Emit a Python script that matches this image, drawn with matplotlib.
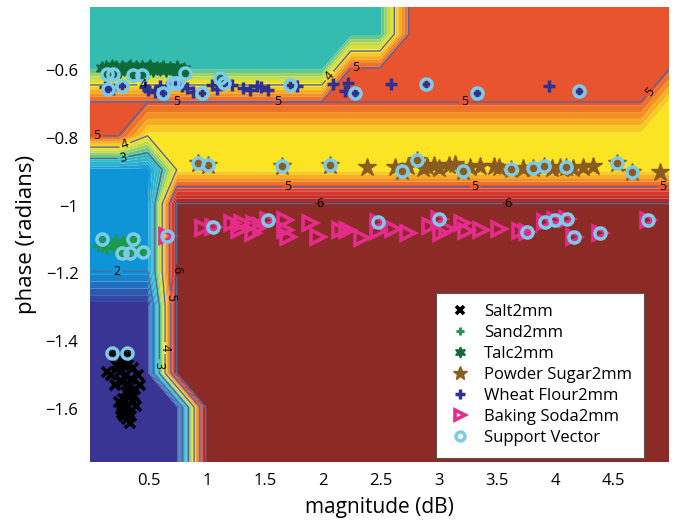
import numpy as np
import matplotlib
matplotlib.use("Agg")
import matplotlib.pyplot as plt
from matplotlib.colors import LinearSegmentedColormap, Normalize
from matplotlib.ticker import FuncFormatter

plt.rcParams['font.family'] = ['Open Sans', 'DejaVu Sans']

# ---------------- data ----------------
# predicted-class grid (rows top -> bottom), class ids 1..6
grid_x = np.arange(21) * 0.25 - 0.01
grid_y = -0.394 - 0.1 * np.arange(15)
label_rows = [
    "333333333335555555555",
    "333333333335555555555",
    "333333333555555555555",
    "555555555555555555554",
    "554444444444444444444",
    "222444444444444444444",
    "222666666666666666666",
    "222666666666666666666",
    "222666666666666666666",
    "111666666666666666666",
    "111666666666666666666",
    "111666666666666666666",
    "111166666666666666666",
    "111166666666666666666",
    "111166666666666666666",
]

salt_x = [0.22, 0.28, 0.32, 0.36, 0.25, 0.30, 0.17, 0.35, 0.41, 0.27, 0.32, 0.38, 0.30,
          0.34, 0.28, 0.36, 0.31, 0.26, 0.33, 0.29, 0.31, 0.34, 0.24, 0.37, 0.18, 0.31,
          0.14, 0.42, 0.21, 0.39, 0.27, 0.35, 0.29]
salt_y = [-1.47, -1.47, -1.47, -1.48, -1.49, -1.50, -1.50, -1.51, -1.50, -1.52, -1.53, -1.54, -1.55,
          -1.56, -1.57, -1.58, -1.59, -1.60, -1.61, -1.62, -1.63, -1.64, -1.58, -1.56, -1.435, -1.435,
          -1.49, -1.53, -1.53, -1.59, -1.61, -1.62, -1.46]

sand_x = [0.06, 0.10, 0.14, 0.10, 0.18, 0.22, 0.25, 0.28, 0.31, 0.34, 0.36, 0.27, 0.34, 0.45,
          0.20, 0.24, 0.30, 0.38, 0.42]
sand_y = [-1.12, -1.12, -1.125, -1.098, -1.11, -1.10, -1.115, -1.105, -1.12, -1.11, -1.098, -1.14,
          -1.14, -1.137, -1.125, -1.13, -1.13, -1.12, -1.13]

talc_x = [0.10, 0.13, 0.15, 0.18, 0.20, 0.22, 0.25, 0.27, 0.29, 0.32, 0.34, 0.36, 0.39, 0.41,
          0.44, 0.46, 0.49, 0.51, 0.54, 0.57, 0.60, 0.62, 0.65, 0.68, 0.71, 0.74, 0.77, 0.80,
          0.14, 0.19, 0.36, 0.44, 0.81, 1.11]
talc_y = [-0.595, -0.590, -0.600, -0.588, -0.596, -0.592, -0.602, -0.590, -0.598, -0.594, -0.588,
          -0.600, -0.592, -0.597, -0.590, -0.603, -0.594, -0.588, -0.600, -0.593, -0.598, -0.590,
          -0.601, -0.595, -0.600, -0.592, -0.605, -0.598, -0.612, -0.612, -0.615, -0.615, -0.609,
          -0.624]

sugar_x = [0.92, 1.01, 1.65, 2.06, 2.38, 2.62, 2.68, 2.73, 2.81, 2.86, 2.90, 2.96, 3.00, 3.09,
           3.14, 3.21, 3.27, 3.35, 3.47, 3.52, 3.62, 3.72, 3.81, 3.90, 3.97, 4.04, 4.09, 4.15,
           4.24, 4.33, 4.53, 4.66, 4.90]
sugar_y = [-0.874, -0.880, -0.883, -0.880, -0.886, -0.885, -0.898, -0.884, -0.865, -0.888, -0.883,
           -0.880, -0.888, -0.880, -0.876, -0.898, -0.885, -0.883, -0.883, -0.886, -0.892, -0.890,
           -0.889, -0.883, -0.888, -0.885, -0.886, -0.889, -0.886, -0.883, -0.874, -0.900, -0.900]

wheat_x = [0.12, 0.15, 0.19, 0.27, 0.47, 0.49, 0.55, 0.60, 0.62, 0.66, 0.71, 0.74, 0.79, 0.83,
           0.88, 0.96, 1.04, 1.09, 1.15, 1.22, 1.31, 1.37, 1.43, 1.47, 1.53, 1.72, 1.78, 2.09,
           2.19, 2.22, 2.28, 2.59, 2.89, 3.33, 3.95, 4.21]
wheat_y = [-0.650, -0.656, -0.656, -0.647, -0.650, -0.659, -0.665, -0.647, -0.668, -0.650, -0.638,
           -0.638, -0.647, -0.653, -0.665, -0.668, -0.644, -0.656, -0.638, -0.644, -0.653, -0.659,
           -0.647, -0.650, -0.659, -0.644, -0.647, -0.641, -0.662, -0.638, -0.668, -0.641, -0.641,
           -0.668, -0.647, -0.662]

soda_x = [0.66, 0.97, 1.05, 1.22, 1.30, 1.28, 1.41, 1.40, 1.47, 1.53, 1.67, 1.67, 1.70, 1.89,
          1.96, 2.15, 2.21, 2.34, 2.47, 2.47, 2.60, 2.73, 2.92, 3.00, 3.02, 3.07, 3.20, 3.23,
          3.36, 3.52, 3.70, 3.76, 3.91, 4.00, 4.10, 4.16, 4.39, 4.80]
soda_y = [-1.090, -1.066, -1.063, -1.050, -1.050, -1.072, -1.054, -1.080, -1.060, -1.042, -1.042,
          -1.072, -1.093, -1.050, -1.093, -1.072, -1.072, -1.096, -1.048, -1.075, -1.070, -1.082,
          -1.060, -1.040, -1.080, -1.070, -1.050, -1.075, -1.072, -1.070, -1.075, -1.078, -1.048,
          -1.042, -1.039, -1.093, -1.081, -1.042]

sv_x = [0.18, 0.31, 0.10, 0.36, 0.27, 0.34, 0.45, 0.14, 0.19, 0.36, 0.44, 0.81, 1.11,
        0.15, 0.27, 0.62, 0.71, 0.74, 0.96, 1.15, 1.72, 2.28, 2.89, 3.33, 4.21,
        0.92, 1.01, 1.65, 2.06, 2.68, 2.81, 3.21, 3.62, 3.81, 3.90, 4.09, 4.53, 4.66,
        0.66, 1.05, 1.53, 2.47, 3.00, 3.76, 3.91, 4.00, 4.10, 4.16, 4.39, 4.80]
sv_y = [-1.435, -1.435, -1.098, -1.098, -1.140, -1.140, -1.137, -0.612, -0.612, -0.615, -0.615,
        -0.609, -0.624,
        -0.656, -0.647, -0.668, -0.638, -0.638, -0.668, -0.638, -0.644, -0.668, -0.641, -0.668,
        -0.662,
        -0.874, -0.880, -0.883, -0.880, -0.898, -0.865, -0.898, -0.892, -0.889, -0.883, -0.886,
        -0.874, -0.900,
        -1.090, -1.063, -1.042, -1.048, -1.040, -1.078, -1.048, -1.042, -1.039, -1.093, -1.081,
        -1.042]

class_names = ["Salt2mm", "Sand2mm", "Talc2mm", "Powder Sugar2mm", "Wheat Flour2mm",
               "Baking Soda2mm", "Support Vector"]
line_levels = [2, 3, 4, 5, 6]
xtick_vals = [0.5, 1, 1.5, 2, 2.5, 3, 3.5, 4, 4.5]
ytick_vals = [-0.6, -0.8, -1.0, -1.2, -1.4, -1.6]

# ---------------- figure ----------------
fig = plt.figure(figsize=(6.81, 5.21), dpi=100)
ax = fig.add_axes([0.1316, 0.1132, 0.8506, 0.8734])

Z = np.array([[int(c) for c in r] for r in label_rows], dtype=float)
X, Y = np.meshgrid(grid_x, grid_y)

anchors = [(1.0, '#393594'), (1.5, '#2766b9'), (2.0, '#0d95d7'), (2.5, '#2bb4d6'),
           (3.0, '#35bcb0'), (3.5, '#b5d852'), (4.0, '#fbe424'), (4.5, '#f5a11f'),
           (5.0, '#e8542e'), (5.5, '#d2302b'), (6.0, '#8c2a25')]
cmap = LinearSegmentedColormap.from_list('cls', [((v - 1) / 5, c) for v, c in anchors])
fill_levels = np.arange(0.9, 6.11, 0.2)
ax.contourf(X, Y, Z, levels=fill_levels, cmap=cmap, norm=Normalize(1, 6), antialiased=True)

cs = ax.contour(X, Y, Z, levels=[v - 0.001 for v in line_levels], colors='#56679a',
                linewidths=1.0)
label_pos = [(0.45, -0.644), (0.74, -0.697), (1.61, -0.697), (2.06, -0.618), (2.28, -0.594),
             (3.22, -0.694), (4.82, -0.665), (0.055, -0.795), (0.30, -0.826), (0.28, -0.86),
             (1.70, -0.946), (3.31, -0.946), (4.93, -0.946), (1.97, -0.994), (3.59, -0.994),
             (0.74, -1.19), (0.675, -1.27), (0.23, -1.196), (0.64, -1.42), (0.60, -1.47)]
ax.clabel(cs, manual=label_pos, inline=True, inline_spacing=2, fontsize=9, colors='black',
          fmt=lambda v: f"{int(round(v))}")

h_salt, = ax.plot(salt_x, salt_y, 'x', color='black', ms=7, mew=2.6, ls='none')
h_sand, = ax.plot(sand_x, sand_y, '+', color='#1b9a4a', ms=8, mew=2.2, ls='none')
h_talc, = ax.plot(talc_x, talc_y, marker=(6, 1, 0), color='#0d6b38', ms=10, ls='none')
h_sugar, = ax.plot(sugar_x, sugar_y, '*', color='#8b5c1f', ms=13.5, ls='none')
h_wheat, = ax.plot(wheat_x, wheat_y, '+', color='#2e3192', ms=9, mew=2.5, ls='none')
h_soda, = ax.plot(soda_x, soda_y, '>', mfc='none', mec='#e52c8c', ms=9.5, mew=2.6, ls='none')
h_sv, = ax.plot(sv_x, sv_y, 'o', mfc='none', mec='#7ccbea', ms=8, mew=2.5, ls='none')

ax.set_xlim(-0.01, 4.98)
ax.set_ylim(-1.756, -0.414)

fmt = FuncFormatter(lambda v, p: f"{v:g}".replace('-', '\u2212'))
ax.set_xticks(xtick_vals)
ax.set_yticks(ytick_vals)
ax.xaxis.set_major_formatter(fmt)
ax.yaxis.set_major_formatter(fmt)
ax.tick_params(length=0, labelsize=12, pad=8)
for s in ax.spines.values():
    s.set_visible(False)
ax.set_xlabel('magnitude (dB)', fontsize=15, labelpad=6)
ax.set_ylabel('phase (radians)', fontsize=16, labelpad=6)

leg = ax.legend([h_salt, h_sand, h_talc, h_sugar, h_wheat, h_soda, h_sv], class_names,
                loc='lower right', bbox_to_anchor=(0.957, 0.009), borderaxespad=0,
                fontsize=12, fancybox=False, framealpha=1, edgecolor='#555555',
                labelspacing=0.3, handletextpad=0.7, borderpad=0.7, markerscale=0.8,
                handlelength=1.5)
leg.get_frame().set_linewidth(0.8)

fig.savefig('out.png', dpi=100)
